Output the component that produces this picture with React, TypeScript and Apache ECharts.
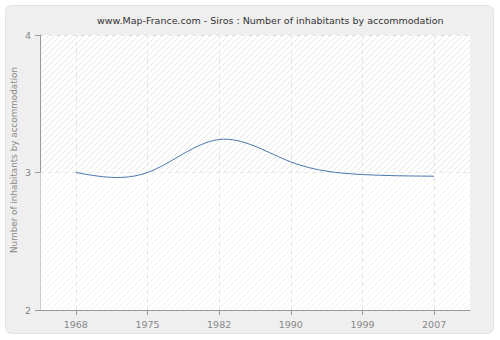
import React, { useEffect, useRef } from "react";
import * as echarts from "echarts";

const title = "www.Map-France.com - Siros : Number of inhabitants by accommodation";
const yAxisName = "Number of inhabitants by accommodation";
const years = ["1968", "1975", "1982", "1990", "1999", "2007"];
const values = [3.0, 3.0, 3.24, 3.077, 2.985, 2.973];
const yMin = 2;
const yMax = 4;
const yInterval = 1;

// Natural cubic spline second derivatives (unit spacing in category index)
function naturalSpline(y: number[]): number[] {
  const n = y.length;
  const M = new Array(n).fill(0);
  if (n < 3) return M;
  const m = n - 2;
  const c: number[] = new Array(m).fill(0);
  const d: number[] = new Array(m).fill(0);
  for (let k = 0; k < m; k++) {
    const i = k + 1;
    const rhs = 6 * (y[i + 1] - 2 * y[i] + y[i - 1]);
    if (k === 0) {
      c[k] = 1 / 4;
      d[k] = rhs / 4;
    } else {
      const den = 4 - c[k - 1];
      c[k] = 1 / den;
      d[k] = (rhs - d[k - 1]) / den;
    }
  }
  for (let k = m - 1; k >= 0; k--) {
    M[k + 1] = d[k] - (k < m - 1 ? c[k] * M[k + 2] : 0);
  }
  return M;
}

function makeHatch(): HTMLCanvasElement {
  const c = document.createElement("canvas");
  const s = 6;
  c.width = s;
  c.height = s;
  const ctx = c.getContext("2d")!;
  ctx.fillStyle = "#ffffff";
  ctx.fillRect(0, 0, s, s);
  ctx.strokeStyle = "#e6e6e6";
  ctx.lineWidth = 1;
  ctx.beginPath();
  ctx.moveTo(0, s);
  ctx.lineTo(s, 0);
  ctx.moveTo(-s / 2, s / 2);
  ctx.lineTo(s / 2, -s / 2);
  ctx.moveTo(s / 2, s + s / 2);
  ctx.lineTo(s + s / 2, s / 2);
  ctx.stroke();
  return c;
}

export default function App() {
  const ref = useRef<HTMLDivElement>(null);
  useEffect(() => {
    if (!ref.current) return;
    const chart = echarts.init(ref.current, undefined, { renderer: "svg" });
    const M = naturalSpline(values);
    const axisColor = "#999999";
    const font = "DejaVu Sans";
    chart.setOption({
      animation: false,
      backgroundColor: "#ffffff",
      graphic: [
        {
          type: "rect",
          z: -10,
          silent: true,
          shape: { x: 5.5, y: 5.5, width: 488, height: 328, r: 6 },
          style: { fill: "#efefef", stroke: "#e2e2e2", lineWidth: 1 },
        },
        {
          type: "text",
          silent: true,
          x: 14,
          y: 160,
          rotation: Math.PI / 2,
          style: {
            text: yAxisName,
            fill: "#888",
            fontFamily: font,
            fontSize: 8.8,
            align: "center",
            verticalAlign: "middle",
          },
        },
      ],
      title: {
        text: title,
        left: 92,
        top: 10,
        textStyle: { fontFamily: font, fontSize: 9.5, fontWeight: "normal", color: "#333" },
      },
      grid: {
        left: 40,
        right: 30,
        top: 35,
        bottom: 30,
        outerBoundsMode: "none",
        containLabel: false,
        show: true,
        backgroundColor: { image: makeHatch(), repeat: "repeat" } as any,
        borderWidth: 0,
      },
      xAxis: {
        type: "category",
        data: years,
        boundaryGap: true,
        axisLine: { show: true, onZero: false, lineStyle: { color: axisColor, width: 1 } },
        axisTick: { show: true, alignWithLabel: true, length: 5, lineStyle: { color: axisColor } },
        axisLabel: { color: "#888", fontFamily: font, fontSize: 9.5, margin: 9 },
        splitLine: { show: false },
      },
      yAxis: {
        type: "value",
        min: yMin,
        max: yMax,
        interval: yInterval,
        axisLine: { show: true, onZero: false, lineStyle: { color: axisColor, width: 1 } },
        axisTick: { show: true, length: 5, lineStyle: { color: axisColor } },
        axisLabel: { color: "#888", fontFamily: font, fontSize: 9.5, margin: 9 },
        splitLine: { show: true, lineStyle: { color: "#e2e2e2", type: [4, 4] } },
      },
      series: [
        {
          type: "line",
          data: values,
          symbol: "none",
          silent: true,
          lineStyle: { opacity: 0, width: 0 },
          markArea: {
            silent: true,
            itemStyle: { color: "rgba(255,255,255,0.5)" },
            data: [[{ yAxis: yMin }, { yAxis: 3 }]],
          },
          markLine: {
            silent: true,
            symbol: "none",
            label: { show: false },
            lineStyle: { color: "#e2e2e2", type: [4, 4], width: 1 },
            data: years.map((y) => ({ xAxis: y })),
          },
        },
        {
          type: "custom",
          data: values.map((v, i) => [i, v]),
          z: 5,
          renderItem: (params: any, api: any) => {
            const i = params.dataIndex;
            if (i >= values.length - 1) return null;
            const y0 = values[i];
            const y1 = values[i + 1];
            const d0 = y1 - y0 - (2 * M[i] + M[i + 1]) / 6;
            const d1 = y1 - y0 + (M[i] + 2 * M[i + 1]) / 6;
            const p1 = api.coord([i, y0]);
            const p2 = api.coord([i + 1, y1]);
            const c1 = api.coord([i, y0 + d0 / 3]);
            const c2 = api.coord([i + 1, y1 - d1 / 3]);
            const dx = p2[0] - p1[0];
            return {
              type: "bezierCurve",
              shape: {
                x1: p1[0], y1: p1[1], x2: p2[0], y2: p2[1],
                cpx1: p1[0] + dx / 3, cpy1: c1[1],
                cpx2: p1[0] + (2 * dx) / 3, cpy2: c2[1],
              },
              style: { stroke: "#4a78ad", fill: "none", lineWidth: 1 },
            };
          },
        },
      ],
    });
    return () => chart.dispose();
  }, []);
  return (
    <div
      ref={ref}
      style={{ position: "absolute", left: 0, top: 0, width: 500, height: 340 }}
    />
  );
}
